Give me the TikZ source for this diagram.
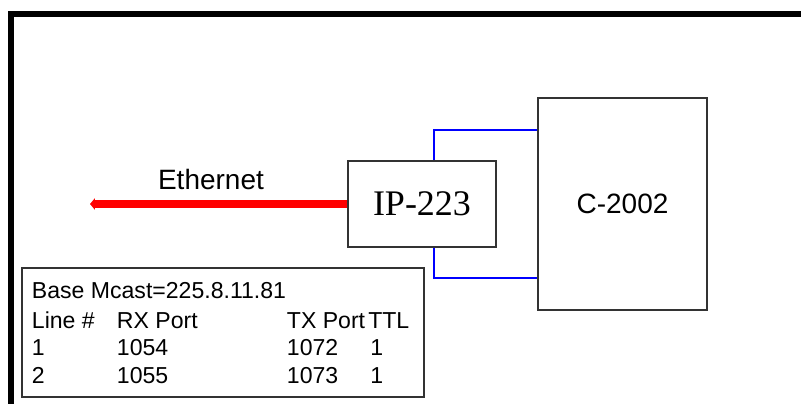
\documentclass[tikz,border=0pt]{standalone}
\usepackage{fontspec}
\setmainfont{Liberation Sans}
\newfontfamily\ipserif{Liberation Serif}
\usetikzlibrary{arrows.meta, positioning}
\tikzset{
  devbox/.style={rectangle, draw=black!80, line width=0.05cm, fill=white, inner sep=0pt},
  bluelink/.style={draw=blue, line width=0.04cm},
  ethline/.style={draw=red, line width=0.2cm, -{Triangle[length=0.12cm, width=0.28cm]}},
  frameline/.style={draw=black, line width=0.15cm},
  celltext/.style={anchor=base west, inner sep=0pt, font=\fontsize{16.4pt}{20pt}\selectfont},
}

\begin{document}
\begin{tikzpicture}[x=0.025cm, y=-0.025cm]
  \useasboundingbox (0,0) rectangle (801,403);
  \clip (0,0) rectangle (801,403);
  \fill[white] (0,0) rectangle (801,403);
  \draw[frameline] (11,430) |- (830,13.5);

  \node[devbox, minimum width=4.225cm, minimum height=5.3cm, font=\fontsize{19.9pt}{24pt}\selectfont] (c2002) at (622.5,204) {C-2002};
  \node[devbox, minimum width=3.68cm, minimum height=2.14cm, font=\ipserif\fontsize{25.6pt}{30pt}\selectfont] (ip223) at (422,204) {IP-223};
  \node[devbox, minimum width=10.05cm, minimum height=3.225cm] (table) at (223,332.5) {};

  \coordinate (ethend) at (90,204);
  \coordinate (uptap) at (434,130);
  \coordinate (downtap) at (434,278);

  \draw[ethline] (ip223.west) -- node[pos=0.53, above=0.26cm, inner sep=0pt, font=\fontsize{19.9pt}{24pt}\selectfont] (ethlabel) {Ethernet} (ethend);
  \draw[bluelink] (ip223.north -| uptap) |- (c2002.west |- uptap);
  \draw[bluelink] (ip223.south -| downtap) |- (c2002.west |- downtap);

  % multicast table
  \node[celltext] (mcast) at (31.7,298) {Base Mcast=225.8.11.81};
  \node[celltext] (hline) at (31.7,328) {Line \#};
  \node[celltext] (hrx)   at (116.7,328) {RX Port};
  \node[celltext] (htx)   at (286.7,328) {TX Port};
  \node[celltext] (httl)  at (368,328) {TTL};
  \node[celltext] (line1) at (31.7,355) {1};
  \node[celltext] (rx1)   at (116.7,355) {1054};
  \node[celltext] (tx1)   at (286.7,355) {1072};
  \node[celltext] (ttl1)  at (370,355) {1};
  \node[celltext] (line2) at (31.7,383) {2};
  \node[celltext] (rx2)   at (116.7,383) {1055};
  \node[celltext] (tx2)   at (286.7,383) {1073};
  \node[celltext] (ttl2)  at (370,383) {1};
\end{tikzpicture}
\end{document}
